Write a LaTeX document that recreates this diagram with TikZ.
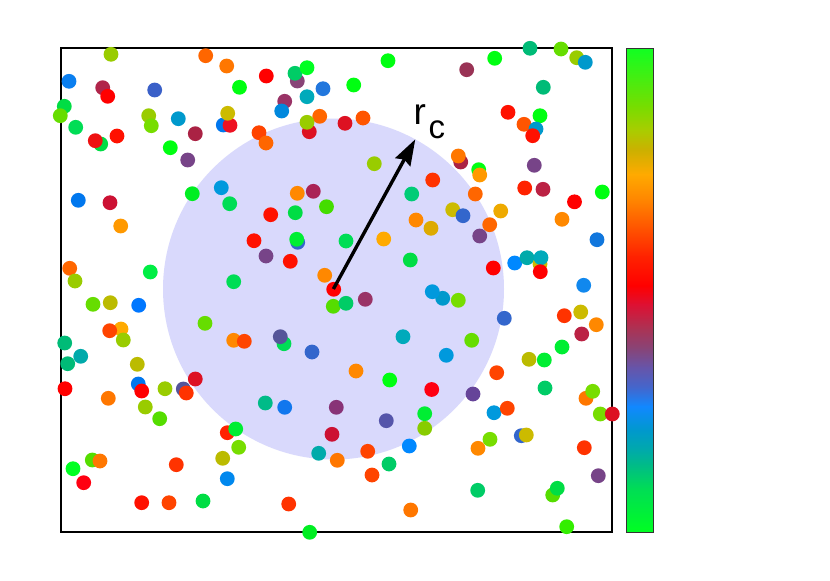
\documentclass[tikz,border=0pt]{standalone}
\usepackage{fontspec}
\setmainfont{Liberation Sans}
\usetikzlibrary{arrows.meta}
\newcommand\dt[3]{\definecolor{dc}{HTML}{#3}\fill[dc] (#1,#2) circle[radius=7.4pt];}
\newcommand\cbseg[4]{\shade[top color=#3, bottom color=#4] (626.7,#1) rectangle (653.7,#2);}
\definecolor{discfill}{RGB}{217,217,252}
\definecolor{cbA}{HTML}{11FF22}\definecolor{cbB}{HTML}{77DD00}\definecolor{cbC}{HTML}{AACC00}
\definecolor{cbD}{HTML}{CCB000}\definecolor{cbE}{HTML}{FFAA00}\definecolor{cbF}{HTML}{FF8800}
\definecolor{cbG}{HTML}{FF5500}\definecolor{cbH}{HTML}{FF2200}\definecolor{cbI}{HTML}{FF0000}
\definecolor{cbJ}{HTML}{DD1133}\definecolor{cbK}{HTML}{AA3355}\definecolor{cbL}{HTML}{884477}
\definecolor{cbM}{HTML}{6655AA}\definecolor{cbN}{HTML}{4466CC}\definecolor{cbO}{HTML}{1188FF}
\definecolor{cbP}{HTML}{0099CC}\definecolor{cbQ}{HTML}{00AAAA}\definecolor{cbR}{HTML}{00BB88}
\definecolor{cbS}{HTML}{00DD55}\definecolor{cbT}{HTML}{00FF22}
\begin{document}
\begin{tikzpicture}[x=1pt,y=-1pt,
  frame/.style={draw=black,line width=1.2pt},
  radarrow/.style={line width=3.4pt,-{Stealth[length=26pt,width=17pt,inset=3pt]}},
  lab/.style={anchor=base west,inner sep=0pt,font=\fontsize{37}{37}\selectfont}]
\useasboundingbox (0,0) rectangle (830,581);
\fill[white] (0,0) rectangle (830,581);
% disc
\fill[discfill] (333.5,289) circle[radius=170.5pt];
% frame
\draw[frame] (61,48) rectangle (612,532);
% colorbar
\cbseg{48.3}{106.6}{cbA}{cbB}
\cbseg{106.4}{130.8}{cbB}{cbC}
\cbseg{130.6}{150.2}{cbC}{cbD}
\cbseg{150}{174.4}{cbD}{cbE}
\cbseg{174.2}{198.5}{cbE}{cbF}
\cbseg{198.3}{227.6}{cbF}{cbG}
\cbseg{227.4}{256.6}{cbG}{cbH}
\cbseg{256.4}{285.7}{cbH}{cbI}
\cbseg{285.5}{305}{cbI}{cbJ}
\cbseg{304.8}{329.2}{cbJ}{cbK}
\cbseg{329}{348.6}{cbK}{cbL}
\cbseg{348.4}{367.9}{cbL}{cbM}
\cbseg{367.7}{387.3}{cbM}{cbN}
\cbseg{387.1}{406.7}{cbN}{cbO}
\cbseg{406.5}{430.9}{cbO}{cbP}
\cbseg{430.7}{450.2}{cbP}{cbQ}
\cbseg{450}{464.7}{cbQ}{cbR}
\cbseg{464.5}{488.9}{cbR}{cbS}
\cbseg{488.7}{532.3}{cbS}{cbT}
\draw[black!80,line width=0.9pt] (626.7,48.3) rectangle (653.7,532.3);
% dots
\dt{111}{54.3}{99CC00}
\dt{205.7}{55.7}{FF6600}
\dt{226.7}{66}{FF7700}
\dt{69}{81.3}{0A7FF0}
\dt{102.7}{87.7}{B0254A}
\dt{107.7}{96.3}{FF0000}
\dt{154.7}{90}{3A60C8}
\dt{239.5}{87.3}{00FF11}
\dt{64.3}{106.3}{00DD44}
\dt{60.3}{115.7}{66DD00}
\dt{148.7}{115.7}{99CC00}
\dt{151.3}{125.7}{77DD00}
\dt{178.3}{118.7}{0099CC}
\dt{223.3}{125}{0077EE}
\dt{230}{125.3}{EE1122}
\dt{227.7}{113.3}{CCBB00}
\dt{75.7}{127.3}{00DD55}
\dt{100.7}{144}{00DD44}
\dt{95.3}{140.7}{EE1111}
\dt{117}{136}{FF1100}
\dt{195.3}{133.7}{AA2244}
\dt{170.3}{147.7}{00FF11}
\dt{187.7}{160}{774488}
\dt{78.3}{200.3}{0077EE}
\dt{110}{202.7}{CC1133}
\dt{192.3}{193.7}{00EE22}
\dt{221.3}{187.7}{0099DD}
\dt{229.7}{203.7}{00DD55}
\dt{266.3}{76}{FF0000}
\dt{297.3}{81}{884477}
\dt{295}{73.3}{00CC66}
\dt{307}{67.7}{00FF22}
\dt{323}{88.7}{2277DD}
\dt{353.7}{85}{00FF11}
\dt{388}{60.7}{00FF11}
\dt{307}{96.7}{00AABB}
\dt{284.7}{101.3}{993366}
\dt{281.7}{111}{0088DD}
\dt{319.7}{116.3}{FF6600}
\dt{309.3}{131.7}{DD1122}
\dt{307}{122.3}{99CC00}
\dt{345}{123.3}{DD1122}
\dt{363}{118}{FF5500}
\dt{259}{132.7}{FF4400}
\dt{266}{143}{FF6600}
\dt{374.3}{163.7}{99CC00}
\dt{432.7}{180}{FF3300}
\dt{411.7}{194}{00CC77}
\dt{297.3}{193.3}{FF8800}
\dt{313.3}{191.3}{AA2255}
\dt{326.5}{206.7}{44DD00}
\dt{295.3}{212.7}{00DD44}
\dt{270.7}{214.7}{FF1100}
\dt{530}{48.3}{00BB77}
\dt{561}{49}{66DD00}
\dt{576.7}{57.7}{99CC00}
\dt{585.3}{62.3}{0099CC}
\dt{494.7}{58.3}{00FF11}
\dt{466.7}{69.7}{993355}
\dt{543.3}{87.3}{00BB77}
\dt{508}{112.3}{FF1100}
\dt{540}{115.7}{00FF11}
\dt{524}{124.3}{FF5500}
\dt{536}{129}{0099CC}
\dt{532.7}{135.7}{FF1100}
\dt{460.7}{162}{AA2244}
\dt{458.3}{156}{FF7700}
\dt{478.7}{169.7}{00FF11}
\dt{479.7}{175}{FF9900}
\dt{534.3}{165.3}{774488}
\dt{524.7}{188}{FF2200}
\dt{543}{189.3}{BB2244}
\dt{602.3}{192}{00FF11}
\dt{574.5}{201.8}{FF0000}
\dt{475.3}{194}{FF6600}
\dt{452.7}{209.7}{CCBB00}
\dt{463}{215.7}{3366CC}
\dt{500.7}{211}{EEAA00}
\dt{489.7}{224.7}{FF6600}
\dt{479.7}{236}{774488}
\dt{562}{219.3}{FF8800}
\dt{597}{239.7}{1177DD}
\dt{493.3}{268}{FF0000}
\dt{514.7}{263}{0088FF}
\dt{527}{257.7}{00AAAA}
\dt{540}{264}{CCBB00}
\dt{541}{257.7}{00AABB}
\dt{540.3}{271.7}{FF0000}
\dt{583.7}{285.3}{1188EE}
\dt{442.7}{298.3}{0099CC}
\dt{458.3}{300.3}{77DD00}
\dt{504.3}{318.3}{3366CC}
\dt{564.3}{315.7}{FF3300}
\dt{580.7}{312}{CCBB00}
\dt{596.3}{324.7}{FF8800}
\dt{581.7}{334}{BB2244}
\dt{562}{347}{00EE33}
\dt{471.7}{340.3}{66DD00}
\dt{446.3}{355.3}{0099DD}
\dt{529}{359.3}{BBBB00}
\dt{544.3}{360}{00EE33}
\dt{120.7}{226}{FF9900}
\dt{69.7}{268.3}{FF6600}
\dt{75}{281}{99CC00}
\dt{150.3}{272}{00EE44}
\dt{93}{304.3}{66DD00}
\dt{110.3}{302.7}{BBBB00}
\dt{138.7}{305.3}{0077FF}
\dt{121}{329}{FFAA00}
\dt{109.7}{330.7}{FF4400}
\dt{123.3}{340}{99CC00}
\dt{64.7}{343}{00BB77}
\dt{80.7}{356.3}{00AAAA}
\dt{67.7}{363.7}{00BB77}
\dt{137.3}{364.3}{BBBB00}
\dt{233.7}{281.7}{00DD55}
\dt{205}{323.3}{66DD00}
\dt{233.7}{340.3}{FF8800}
\dt{244.3}{341.3}{FF4400}
\dt{254}{240.7}{FF1100}
\dt{297.7}{242.3}{3366CC}
\dt{296.7}{239.3}{00EE33}
\dt{346}{241}{00DD55}
\dt{266}{256}{774488}
\dt{290.3}{261.3}{FF1100}
\dt{324.7}{275.3}{FF8800}
\dt{333.7}{289.3}{FF0000}
\dt{333.3}{306.3}{55DD00}
\dt{346}{303.3}{00CC66}
\dt{365.3}{299.3}{993366}
\dt{416}{220}{FF8800}
\dt{431}{228.3}{DDAA00}
\dt{383.7}{239}{FFAA00}
\dt{410.3}{260}{00DD44}
\dt{432.3}{291.7}{0099DD}
\dt{284}{343.7}{00DD55}
\dt{280.3}{336.7}{555599}
\dt{312}{352}{3366CC}
\dt{403}{336.7}{00AABB}
\dt{65}{388.7}{FF0000}
\dt{108.3}{398.3}{FF7700}
\dt{138.3}{384}{0077EE}
\dt{141.7}{391}{FF0000}
\dt{165}{388.7}{99CC00}
\dt{183.3}{389}{555599}
\dt{186.3}{393}{FF3300}
\dt{195.3}{379}{DD1122}
\dt{145.3}{407}{99CC00}
\dt{159.7}{418.7}{55DD00}
\dt{227.3}{432.7}{FF2200}
\dt{235.7}{429}{00EE33}
\dt{238.7}{447.3}{77DD00}
\dt{222.7}{458.3}{BBBB00}
\dt{227.3}{478.7}{0088EE}
\dt{92.3}{460}{55DD00}
\dt{100}{461}{FF7700}
\dt{73}{468.7}{00FF22}
\dt{83.7}{482.7}{FF0011}
\dt{176.3}{464.7}{FF3300}
\dt{141.7}{502.7}{FF1100}
\dt{169}{502.7}{FF4400}
\dt{203}{501}{00DD44}
\dt{356}{371}{FF8800}
\dt{389.7}{380}{00FF11}
\dt{431.7}{389.5}{FF0011}
\dt{265.3}{403}{00BB88}
\dt{284.7}{407.3}{1177EE}
\dt{336.3}{407.3}{883377}
\dt{386.3}{420.7}{5555AA}
\dt{424.7}{413.7}{00EE33}
\dt{424.7}{428.3}{88CC00}
\dt{332}{434.3}{CC1133}
\dt{318.7}{453.3}{00AAAA}
\dt{337.3}{460.3}{FF7700}
\dt{367.7}{451.3}{FF4400}
\dt{389}{464}{00CC66}
\dt{409.3}{446}{0088FF}
\dt{372}{475}{FF4400}
\dt{288.7}{504}{FF3300}
\dt{410.7}{510}{FF7700}
\dt{309.7}{532.3}{00EE22}
\dt{496.7}{372.7}{FF4400}
\dt{473}{394}{664499}
\dt{545}{388}{00CC66}
\dt{586}{398.3}{FF7700}
\dt{592.7}{391.3}{77DD00}
\dt{600.3}{414}{77DD00}
\dt{612.3}{414}{DD1122}
\dt{494}{412.7}{0099DD}
\dt{507.3}{408.3}{FF4400}
\dt{521.3}{435.7}{3366CC}
\dt{526.3}{435}{CCBB00}
\dt{490}{439.3}{77DD00}
\dt{478}{448.3}{FF8800}
\dt{584.3}{447.7}{FF3300}
\dt{598.3}{475.7}{774488}
\dt{477.7}{490.3}{00CC66}
\dt{552.7}{495}{55DD00}
\dt{557.3}{488.3}{00DD44}
\dt{566.7}{526.7}{33EE00}
% radius arrow and label
\coordinate (ctr) at (333.4,289);
\coordinate (tip) at (415.3,139.3);
\draw[radarrow] (ctr) -- (tip);
\node[lab] (rc) at (413.3,124.4) {r\kern2.8pt\raisebox{-13.9pt}{\fontsize{33}{33}\selectfont c}};
\end{tikzpicture}
\end{document}
